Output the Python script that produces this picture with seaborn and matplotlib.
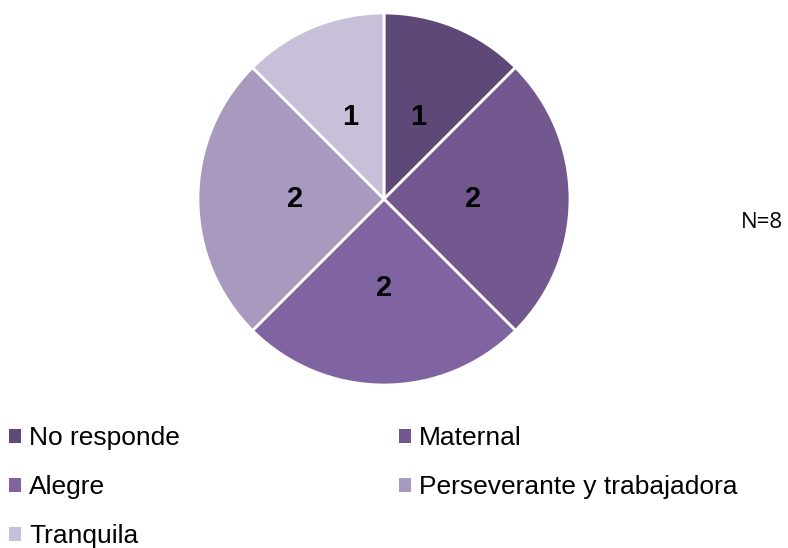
import matplotlib
matplotlib.use("Agg")
import matplotlib.pyplot as plt
from matplotlib.patches import Patch
import seaborn as sns

categories = ["No responde", "Maternal", "Alegre", "Perseverante y trabajadora", "Tranquila"]
values = [1, 2, 2, 2, 1]
colors = ["#5E4878", "#72588F", "#8064A2", "#A899BE", "#C8BFD8"]
note = "N=8"

sns.set_theme(style="white")
plt.rcParams["font.family"] = ["Liberation Sans", "DejaVu Sans"]
plt.rcParams["text.color"] = "black"

fig = plt.figure(figsize=(7.88, 5.48), dpi=100)
W, H = 788, 548
cx, cy, r = 384, 199, 186
ax = fig.add_axes([(cx - r) / W, (H - cy - r) / H, 2 * r / W, 2 * r / H])

wedges, texts = ax.pie(values, colors=colors, startangle=90, counterclock=False,
                       labels=[str(v) for v in values], labeldistance=0.48,
                       wedgeprops=dict(edgecolor="white", linewidth=2),
                       textprops=dict(fontsize=21, fontweight="bold", color="black",
                                      ha="center", va="center"))
ax.set_xlim(-1, 1)
ax.set_ylim(-1, 1)
ax.set_aspect("equal")
ax.axis("off")

fig.text(741 / W, 1 - 222 / H, note, fontsize=16, ha="left", va="center",
         color="black", family=["Open Sans", "DejaVu Sans"])

# legend filled row by row (matplotlib fills column by column)
order = [0, 2, 4, 1, 3]
handles = [Patch(facecolor=colors[i], edgecolor="none") for i in order]
labels = [categories[i] for i in order]
leg = fig.legend(handles, labels, loc="upper left", bbox_to_anchor=(0.012, 1 - 426 / H),
                 ncol=2, frameon=False, fontsize=19, handlelength=0.45, handleheight=0.45,
                 handletextpad=0.3, labelspacing=0.95, columnspacing=8.3,
                 borderaxespad=0, borderpad=0.0)
for t in leg.get_texts():
    t.set_color("black")

fig.savefig("out.png", dpi=100)
